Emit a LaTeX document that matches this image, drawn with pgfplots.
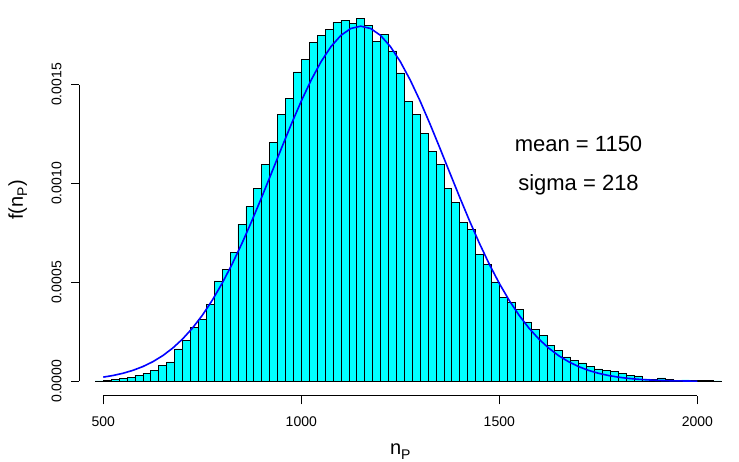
\documentclass[border=0pt]{standalone}
\usepackage{fontspec}
\setmainfont{Liberation Sans}
\usepackage{pgfplots}
\pgfplotsset{compat=1.18}
\usepackage{pgfplotstable}
\definecolor{rcyan}{RGB}{0,255,255}
\definecolor{rblue}{RGB}{0,0,255}

\pgfplotstableread{
x y
480 0.0000015
500 0.0000034
520 0.0000084
540 0.0000135
560 0.0000200
580 0.0000310
600 0.0000410
620 0.0000550
640 0.0000790
660 0.0000980
680 0.000164
700 0.000208
720 0.000272
740 0.000311
760 0.000389
780 0.000508
800 0.000566
820 0.000652
840 0.000794
860 0.000883
880 0.000976
900 0.001098
920 0.001209
940 0.001351
960 0.001432
980 0.001564
1000 0.001628
1020 0.001715
1040 0.001749
1060 0.001778
1080 0.001815
1100 0.001825
1120 0.001811
1140 0.001833
1160 0.001801
1180 0.001720
1200 0.001752
1220 0.001670
1240 0.001559
1260 0.001414
1280 0.001348
1300 0.001255
1320 0.001164
1340 0.001097
1360 0.000977
1380 0.000903
1400 0.000802
1420 0.000767
1440 0.000640
1460 0.000590
1480 0.000502
1500 0.000426
1520 0.000398
1540 0.000364
1560 0.000300
1580 0.000261
1600 0.000231
1620 0.000182
1640 0.000157
1660 0.000123
1680 0.000104
1700 0.0000927
1720 0.0000758
1740 0.0000623
1760 0.0000539
1780 0.0000489
1800 0.0000388
1820 0.0000286
1840 0.0000270
1860 0.0000118
1880 0.0000101
1900 0.0000169
1920 0.0000084
1940 0.0000050
1960 0.0000067
1980 0.0000050
2000 0.0000034
2020 0.0000050
2040 0.0000017
2060 0
}\histdata

\pgfplotstableread{
x y
500 0.00002107
525 0.00002946
550 0.00004067
575 0.00005539
600 0.00007446
625 0.00009880
650 0.00012937
675 0.00016718
700 0.00021323
725 0.00026840
750 0.00033345
775 0.00040888
800 0.00049479
825 0.00059087
850 0.00069642
875 0.00081014
900 0.00093016
925 0.00105395
950 0.00117855
975 0.00130072
1000 0.00141681
1025 0.00152310
1050 0.00161594
1075 0.00169208
1100 0.00174863
1125 0.00178348
1150 0.00179524
1175 0.00178348
1200 0.00174863
1225 0.00169208
1250 0.00161594
1275 0.00152310
1300 0.00141681
1325 0.00130072
1350 0.00117855
1375 0.00105395
1400 0.00093016
1425 0.00081014
1450 0.00069642
1475 0.00059087
1500 0.00049479
1525 0.00040888
1550 0.00033345
1575 0.00026840
1600 0.00021323
1625 0.00016718
1650 0.00012937
1675 0.00009880
1700 0.00007446
1725 0.00005539
1750 0.00004067
1775 0.00002946
1800 0.00002107
1825 0.00001487
1850 0.00001036
1875 0.00000712
1900 0.00000483
1925 0.00000323
1950 0.00000214
1975 0.00000139
2000 0.00000090
}\curvedata

\begin{document}
\begin{tikzpicture}[x=1pt,y=1pt]
\path[use as bounding box] (0,0) rectangle (739,462);
\begin{axis}[
  at={(79.5pt,66.2pt)}, anchor=south west,
  scale only axis, width=641.6pt, height=391.6pt,
  xmin=440, xmax=2060, ymin=-0.0000733, ymax=0.0019063,
  clip=false,
  axis lines*=left, axis line style={draw=none},
  tick align=outside, major tick length=8.5pt,
  tick style={black, line width=0.8pt},
  xtick={500,1000,1500,2000},
  xticklabels={500,1000,1500,2000},
  ytick={0,0.0005,0.001,0.0015},
  yticklabels={0.0000,0.0005,0.0010,0.0015},
  scaled ticks=false,
  xticklabel style={font=\fontsize{14}{16}\selectfont, inner sep=0pt, anchor=north, yshift=-12.5pt},
  yticklabel style={font=\fontsize{14}{16}\selectfont, inner sep=0pt, xshift=-9.3pt, rotate=90, anchor=south},
  xlabel={n\raisebox{-0.22em}{\fontsize{14}{15}\selectfont P}},
  ylabel={f(n\raisebox{-0.22em}{\fontsize{14}{15}\selectfont P})},
  xlabel style={font=\fontsize{20}{24}\selectfont, at={(axis description cs:0.5,-0.1508)}, anchor=base, inner sep=0pt},
  ylabel style={font=\fontsize{20}{24}\selectfont, at={(axis description cs:-0.0884,0.5)}, anchor=base, inner sep=0pt},
]
\addplot[ybar interval, fill=rcyan, draw=black, line width=0.6pt] table[x=x,y=y]{\histdata};
\addplot[rblue, line width=1.6pt, no markers] table[x=x,y=y]{\curvedata};
\draw[black, line width=0.8pt] (axis cs:500,-0.0000733) -- (axis cs:2000,-0.0000733);
\draw[black, line width=0.8pt] (axis cs:440,0) -- (axis cs:440,0.0015);
\node[anchor=base, font=\fontsize{22}{26}\selectfont] at (axis cs:1700,0.0011592) {mean = 1150};
\node[anchor=base, font=\fontsize{22}{26}\selectfont] at (axis cs:1700,0.0009656) {sigma = 218};
\end{axis}
\end{tikzpicture}
\end{document}
